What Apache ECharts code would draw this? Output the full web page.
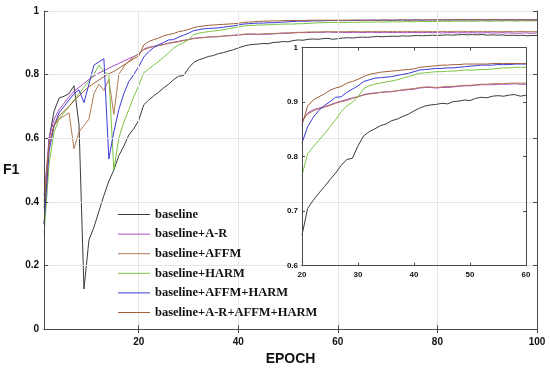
<!DOCTYPE html>
<html><head><meta charset="utf-8">
<script src="https://cdn.jsdelivr.net/npm/echarts@6/dist/echarts.min.js"></script>
<style>html,body{margin:0;padding:0;background:#fff}#c{width:550px;height:371px}</style>
</head><body><div id="c"></div>
<script>
const seriesNames = ['baseline','baseline+A-R','baseline+AFFM','baseline+HARM','baseline+AFFM+HARM','baseline+A-R+AFFM+HARM'];
const epochs = Array.from({length:100},(_,i)=>i+1);
const xTicksMain = [20,40,60,80,100];
const xTicksInset = [20,30,40,50,60];

const baseline = [
0.33,0.60,0.685,0.726,0.732,0.74,0.765,0.644,0.126,0.28,
0.32,0.37,0.42,0.465,0.50,0.545,0.575,0.61,0.63,0.656,
0.705,0.72,0.733,0.745,0.758,0.77,0.784,0.795,0.797,0.82,
0.838,0.846,0.851,0.857,0.86,0.866,0.869,0.874,0.878,0.884,
0.889,0.893,0.895,0.896,0.898,0.897,0.901,0.902,0.904,0.903,
0.907,0.909,0.908,0.911,0.912,0.911,0.913,0.914,0.911,0.913,
0.915,0.916,0.915,0.917,0.918,0.917,0.919,0.920,0.919,0.920,
0.921,0.920,0.922,0.921,0.922,0.923,0.922,0.923,0.924,0.923,
0.924,0.925,0.924,0.925,0.926,0.925,0.926,0.925,0.926,0.924,
0.925,0.924,0.925,0.923,0.924,0.923,0.924,0.922,0.923,0.923];

const baselineAR = [
0.42,0.60,0.66,0.69,0.71,0.73,0.748,0.76,0.772,0.785,
0.795,0.805,0.812,0.82,0.828,0.835,0.843,0.85,0.857,0.864,
0.88,0.886,0.889,0.892,0.895,0.899,0.902,0.905,0.908,0.91,
0.914,0.916,0.917,0.918,0.919,0.919,0.921,0.922,0.923,0.924,
0.926,0.927,0.927,0.926,0.927,0.927,0.928,0.929,0.93,0.93,
0.931,0.932,0.932,0.932,0.933,0.933,0.933,0.934,0.933,0.933,
0.933,0.932,0.933,0.933,0.932,0.933,0.933,0.932,0.933,0.933,
0.932,0.933,0.932,0.932,0.933,0.932,0.932,0.933,0.932,0.932,
0.931,0.932,0.932,0.931,0.932,0.931,0.932,0.931,0.931,0.932,
0.931,0.931,0.932,0.931,0.931,0.930,0.931,0.931,0.930,0.931];

const baselineAFFM = [
0.40,0.58,0.64,0.66,0.67,0.68,0.567,0.62,0.64,0.66,
0.74,0.77,0.75,0.785,0.675,0.80,0.825,0.843,0.855,0.866,
0.878,0.884,0.888,0.891,0.894,0.898,0.901,0.903,0.907,0.91,
0.913,0.915,0.916,0.918,0.919,0.92,0.921,0.923,0.924,0.925,
0.927,0.928,0.928,0.927,0.928,0.929,0.929,0.93,0.931,0.931,
0.932,0.933,0.933,0.934,0.934,0.934,0.935,0.935,0.935,0.935,
0.935,0.935,0.936,0.935,0.935,0.936,0.935,0.936,0.936,0.935,
0.936,0.935,0.936,0.936,0.935,0.936,0.936,0.936,0.935,0.936,
0.936,0.935,0.936,0.936,0.936,0.935,0.936,0.936,0.935,0.936,
0.936,0.935,0.935,0.936,0.935,0.935,0.936,0.935,0.935,0.935];

const baselineHARM = [
0.30,0.52,0.62,0.66,0.68,0.70,0.72,0.74,0.76,0.78,
0.80,0.83,0.81,0.80,0.50,0.60,0.65,0.69,0.73,0.766,
0.805,0.818,0.83,0.842,0.855,0.868,0.883,0.893,0.90,0.91,
0.925,0.93,0.933,0.935,0.937,0.939,0.941,0.944,0.947,0.95,
0.953,0.954,0.955,0.956,0.956,0.957,0.957,0.958,0.959,0.959,
0.959,0.96,0.96,0.961,0.962,0.963,0.963,0.964,0.964,0.964,
0.964,0.964,0.965,0.964,0.965,0.965,0.965,0.966,0.965,0.966,
0.966,0.966,0.966,0.967,0.966,0.967,0.967,0.967,0.967,0.967,
0.968,0.967,0.968,0.968,0.968,0.968,0.968,0.968,0.969,0.968,
0.968,0.969,0.968,0.969,0.969,0.968,0.969,0.969,0.969,0.969];

const baselineAFFMHARM = [
0.33,0.56,0.64,0.68,0.70,0.72,0.74,0.752,0.712,0.77,
0.83,0.84,0.85,0.535,0.62,0.69,0.74,0.778,0.80,0.825,
0.855,0.872,0.885,0.894,0.901,0.909,0.91,0.918,0.924,0.93,
0.938,0.941,0.944,0.945,0.946,0.947,0.949,0.951,0.953,0.956,
0.959,0.96,0.961,0.962,0.962,0.963,0.963,0.964,0.965,0.966,
0.967,0.968,0.968,0.968,0.969,0.969,0.969,0.97,0.97,0.97,
0.970,0.970,0.971,0.970,0.971,0.971,0.971,0.971,0.971,0.971,
0.971,0.971,0.972,0.971,0.972,0.972,0.971,0.972,0.972,0.972,
0.972,0.972,0.972,0.972,0.972,0.973,0.972,0.972,0.973,0.972,
0.972,0.973,0.972,0.973,0.972,0.972,0.973,0.972,0.972,0.972];

const baselineARAFFMHARM = [
0.38,0.58,0.64,0.67,0.685,0.70,0.718,0.733,0.748,0.762,
0.773,0.783,0.793,0.803,0.81,0.82,0.83,0.84,0.85,0.858,
0.893,0.904,0.91,0.915,0.922,0.926,0.929,0.935,0.938,0.942,
0.947,0.951,0.953,0.955,0.956,0.957,0.958,0.959,0.96,0.961,
0.964,0.965,0.966,0.967,0.968,0.968,0.969,0.969,0.97,0.97,
0.97,0.97,0.97,0.971,0.971,0.971,0.971,0.971,0.971,0.971,
0.971,0.971,0.971,0.972,0.971,0.971,0.972,0.971,0.972,0.972,
0.971,0.972,0.972,0.972,0.971,0.972,0.972,0.972,0.972,0.972,
0.972,0.972,0.972,0.973,0.972,0.972,0.972,0.973,0.972,0.972,
0.973,0.972,0.972,0.972,0.973,0.972,0.972,0.972,0.972,0.972];

const seriesValues = [baseline, baselineAR, baselineAFFM, baselineHARM, baselineAFFMHARM, baselineARAFFMHARM];
const colors = ['#3c3c3c','#a84cc0','#b07a55','#7cc442','#3a3ad8','#a0603c'];

const chart = echarts.init(document.getElementById('c'), null, {renderer:'canvas'});
const axisColor = '#4a4a4a';
const labelFont = {fontFamily:'Liberation Sans, Arial, sans-serif', fontWeight:'bold', color:'#111'};

function mainAxisCommon(extra){
  return Object.assign({
    type:'value',
    axisLine:{show:true,lineStyle:{color:axisColor,width:1}},
    axisTick:{show:true,inside:true,length:4,lineStyle:{color:axisColor}},
    z:15
  }, extra);
}

const series = [];
seriesValues.forEach((vals, i) => {
  series.push({
    name: seriesNames[i], type:'line', xAxisIndex:0, yAxisIndex:0,
    data: epochs.map((e, j) => [e, vals[j]]),
    symbol:'none', lineStyle:{width:1, color:colors[i]}, itemStyle:{color:colors[i]},
    z:2, animation:false
  });
});
seriesValues.forEach((vals, i) => {
  series.push({
    name: seriesNames[i], type:'line', xAxisIndex:2, yAxisIndex:2,
    data: epochs.map((e, j) => [e, vals[j]]).filter(p => p[0] >= 20 && p[0] <= 60),
    symbol:'none', lineStyle:{width:1, color:colors[i]}, itemStyle:{color:colors[i]},
    z:20, animation:false
  });
});

chart.setOption({
  animation:false,
  backgroundColor:'#fff',
  grid:[
    {left:39.5, top:11, width:497.5, height:325, show:false},
    {left:302, top:47.7, width:224, height:218, show:true, backgroundColor:'#fff', borderWidth:0, z:10}
  ],
  legend:{
    data:seriesNames, orient:'vertical', left:113, top:203,
    itemWidth:32, itemHeight:14, itemGap:6.6,
    icon:'path://M0,7L32,7L32,8L0,8Z',
    textStyle:{fontFamily:'Liberation Serif, Times New Roman, serif', fontWeight:'bold', fontSize:12.5, color:'#111'},
    z:30
  },
  xAxis:[
    mainAxisCommon({gridIndex:0, position:'bottom', min:1, max:100,
      axisTick:{show:true,inside:true,length:4,lineStyle:{color:axisColor},customValues:xTicksMain},
      axisLabel:Object.assign({fontSize:10, margin:8, customValues:xTicksMain}, labelFont),
      splitLine:{show:true,lineStyle:{color:'#e6e6e6',width:1}},
      name:'EPOCH', nameLocation:'middle', nameGap:16,
      nameTextStyle:{fontFamily:'Liberation Sans, Arial, sans-serif', fontWeight:'bold', fontSize:14, color:'#111'}
    }),
    mainAxisCommon({gridIndex:0, position:'top', min:1, max:100,
      axisTick:{show:true,inside:true,length:4,lineStyle:{color:axisColor},customValues:xTicksMain},
      axisLabel:{show:false}, splitLine:{show:false}}),
    {type:'value', gridIndex:1, position:'bottom', min:20, max:60, interval:10, z:21,
      axisLine:{show:true,lineStyle:{color:axisColor}},
      axisTick:{show:true,inside:true,length:3,lineStyle:{color:axisColor}},
      axisLabel:Object.assign({fontSize:8, margin:5}, labelFont),
      splitLine:{show:false}},
    {type:'value', gridIndex:1, position:'top', min:20, max:60, interval:10, z:21,
      axisLine:{show:true,lineStyle:{color:axisColor}},
      axisTick:{show:true,inside:true,length:3,lineStyle:{color:axisColor}},
      axisLabel:{show:false}, splitLine:{show:false}}
  ],
  yAxis:[
    mainAxisCommon({gridIndex:0, position:'left', min:0, max:1, interval:0.2,
      axisLabel:Object.assign({fontSize:10, margin:5}, labelFont),
      splitLine:{show:true,lineStyle:{color:'#e6e6e6',width:1}},
      name:'F1', nameLocation:'middle', nameGap:17, nameRotate:0,
      nameTextStyle:{fontFamily:'Liberation Sans, Arial, sans-serif', fontWeight:'bold', fontSize:14, color:'#111', padding:[18,0,0,0]}
    }),
    mainAxisCommon({gridIndex:0, position:'right', min:0, max:1, interval:0.2,
      axisLabel:{show:false}, splitLine:{show:false}}),
    {type:'value', gridIndex:1, position:'left', min:0.6, max:1, interval:0.1, z:21,
      axisLine:{show:true,lineStyle:{color:axisColor}},
      axisTick:{show:true,inside:true,length:3,lineStyle:{color:axisColor}},
      axisLabel:Object.assign({fontSize:8, margin:4}, labelFont),
      splitLine:{show:false}},
    {type:'value', gridIndex:1, position:'right', min:0.6, max:1, interval:0.1, z:21,
      axisLine:{show:true,lineStyle:{color:axisColor}},
      axisTick:{show:true,inside:true,length:3,lineStyle:{color:axisColor}},
      axisLabel:{show:false}, splitLine:{show:false}}
  ],
  series: series
});
</script>
</body></html>
